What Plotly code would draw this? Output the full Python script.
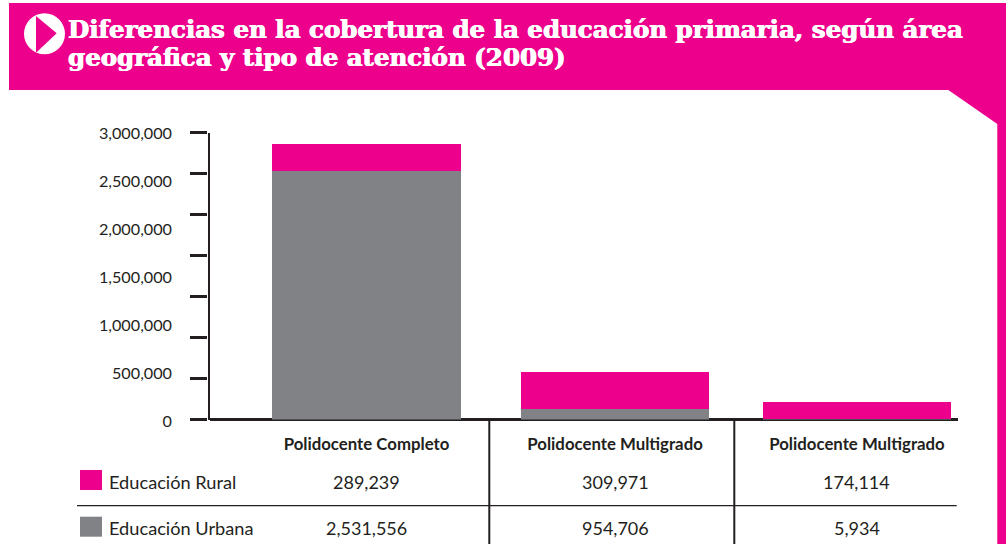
import plotly.graph_objects as go

# Data
categories = ["Polidocente Completo", "Polidocente Multigrado", "Polidocente Multigrado"]
series_names = ["Educación Rural", "Educación Urbana"]
# bar heights
urbana_bars = [2597000, 105000, 5934]
rural_bars = [282000, 387000, 172000]
# values printed in the table
rural_table = ["289,239", "309,971", "174,114"]
urbana_table = ["2,531,556", "954,706", "5,934"]
y_labels = ["0", "500,000", "1,000,000", "1,500,000", "2,000,000", "2,500,000", "3,000,000"]
y_label_vals = [0, 500000, 1000000, 1500000, 2000000, 2500000, 3000000]
y_tick_vals = [0, 428571, 857143, 1285714, 1714286, 2142857, 2571429, 3000000]
column_x = [0, 1.0135, 2]
title_lines = ["Diferencias en la cobertura de la educación primaria, según área",
               "geográfica y tipo de atención (2009)"]

W, H = 1006, 544
PINK, GREY, INK = "#EC008C", "#808285", "#231F20"
FONT = "Lato"
px = lambda v: v / W
py = lambda v: 1 - v / H

fig = go.Figure()
fig.add_bar(x=column_x, y=urbana_bars, name=series_names[1], marker=dict(color=GREY, line_width=0), width=0.7686)
fig.add_bar(x=column_x, y=rural_bars, name=series_names[0], marker=dict(color=PINK, line_width=0), width=0.7686)

shapes = [
    # banner and frame
    dict(type="path", xref="paper", yref="paper", fillcolor=PINK, line_width=0, layer="below",
         path=f"M {px(9)} {py(3)} L 1 {py(3)} L 1 0 L {px(997.3)} 0 L {px(997.3)} {py(124)} "
              f"L {px(948.3)} {py(90)} L {px(9)} {py(90)} Z"),
    dict(type="circle", xref="paper", yref="paper", fillcolor="white", line_width=0,
         x0=px(24), x1=px(65), y0=py(54.3), y1=py(13.3)),
    dict(type="path", xref="paper", yref="paper", fillcolor=PINK, line_width=0,
         path=f"M {px(36)} {py(16)} L {px(56.7)} {py(33.3)} L {px(36)} {py(52.7)} Z"),
    # legend swatches
    dict(type="rect", xref="paper", yref="paper", fillcolor=PINK, line_width=0,
         x0=px(80), x1=px(102), y0=py(490), y1=py(470)),
    dict(type="rect", xref="paper", yref="paper", fillcolor=GREY, line_width=0,
         x0=px(80), x1=px(102), y0=py(536.7), y1=py(516.7)),
    # table rules
    dict(type="line", xref="paper", yref="paper", line=dict(color=INK, width=1.3),
         x0=px(77), x1=px(956.7), y0=py(505.7), y1=py(505.7)),
    dict(type="line", xref="paper", yref="paper", line=dict(color=INK, width=2),
         x0=px(489.3), x1=px(489.3), y0=py(420), y1=0),
    dict(type="line", xref="paper", yref="paper", line=dict(color=INK, width=2),
         x0=px(734.3), x1=px(734.3), y0=py(420), y1=0),
]

annotations = []
for line, base in zip(title_lines, (29.5, 57.5)):
    annotations.append(dict(text=f"<b>{line}</b>", xref="paper", yref="paper", x=px(66), y=py(base),
                            xanchor="left", yanchor="middle", showarrow=False,
                            font=dict(family="DejaVu Serif", size=24.5, color="white",
                                      shadow="0.5px 0 0 white, -0.5px 0 0 white")))
for name, yy in zip(series_names, (481.7, 527.7)):
    annotations.append(dict(text=name, xref="paper", yref="paper", x=px(106.5), y=py(yy),
                            xanchor="left", yanchor="middle", showarrow=False,
                            font=dict(family=FONT, size=18.2, color=INK)))
for xv, r, u in zip(column_x, rural_table, urbana_table):
    for txt, yy in ((r, 481.7), (u, 527.7)):
        annotations.append(dict(text=txt, xref="x", yref="paper", x=xv, y=py(yy),
                                xanchor="center", yanchor="middle", showarrow=False,
                                font=dict(family=FONT, size=18, color=INK)))

fig.update_layout(
    width=W, height=H, autosize=False, margin=dict(l=0, r=0, t=0, b=0, autoexpand=False),
    paper_bgcolor="white", plot_bgcolor="rgba(0,0,0,0)", barmode="stack", showlegend=False,
    shapes=shapes, annotations=annotations,
    font=dict(family=FONT, color=INK),
    xaxis=dict(domain=[px(209.5), px(958)], range=[-0.6402, 2.412], showgrid=False, zeroline=False,
               showline=False, tickmode="array", tickvals=column_x,
               ticktext=[f"<b>{c}</b>" for c in categories], ticks="outside", ticklen=9,
               tickcolor="rgba(0,0,0,0)", tickfont=dict(family=FONT, size=16.8, color=INK), anchor="y"),
    yaxis=dict(domain=[py(419.5), py(132.5)], range=[0, 3000000], showgrid=False, zeroline=True,
               zerolinecolor=INK, zerolinewidth=2.5, showline=True, linecolor=INK, linewidth=2.2,
               tickmode="array", tickvals=y_tick_vals, ticktext=[""] * len(y_tick_vals),
               ticks="outside", ticklen=17, tickwidth=2.5, tickcolor=INK, anchor="x"),
    yaxis2=dict(domain=[py(421.5), py(133)], range=[0, 3000000], anchor="free",
                position=px(172), showgrid=False, zeroline=False, showline=False,
                tickmode="array", tickvals=y_label_vals, ticktext=y_labels,
                ticks="", tickfont=dict(family=FONT, size=16.2, color=INK)),
)
# invisible trace so the label axis is drawn
fig.add_scatter(x=column_x, y=[None, None, None], yaxis="y2", showlegend=False, hoverinfo="skip")

fig.write_html("out.html", config={"displayModeBar": False},
               post_script="document.body.style.margin='0';")
